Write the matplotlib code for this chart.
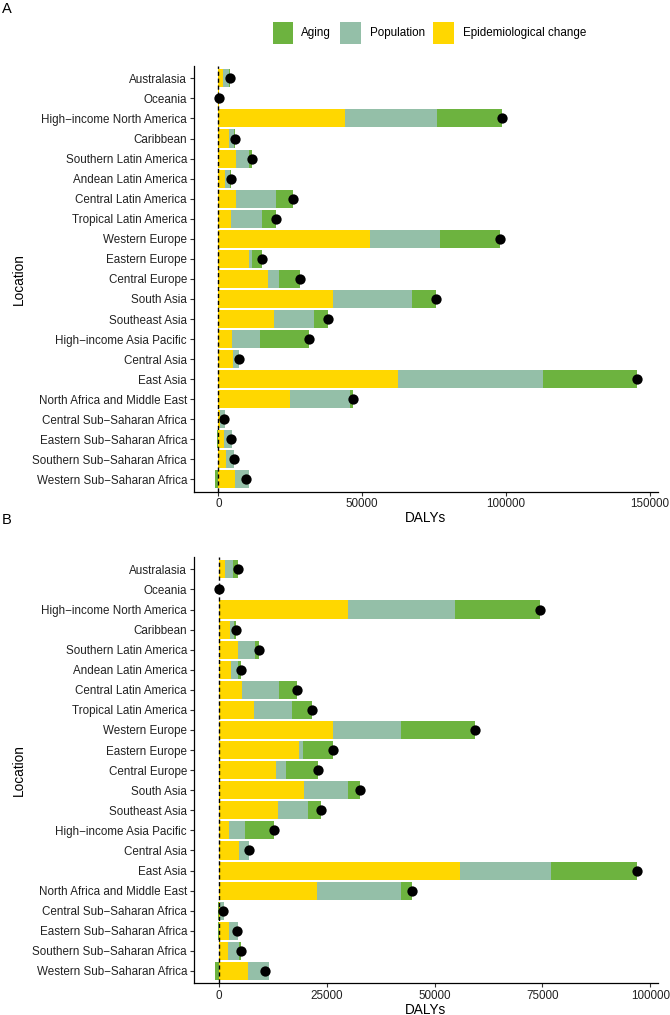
import matplotlib
matplotlib.use("Agg")
import matplotlib.pyplot as plt
from matplotlib.patches import Rectangle
from matplotlib.ticker import FuncFormatter
import numpy as np

plt.rcParams['font.family'] = ['Liberation Sans', 'DejaVu Sans']

locations = ["Australasia", "Oceania", "High\u2212income North America", "Caribbean",
             "Southern Latin America", "Andean Latin America", "Central Latin America",
             "Tropical Latin America", "Western Europe", "Eastern Europe", "Central Europe",
             "South Asia", "Southeast Asia", "High\u2212income Asia Pacific", "Central Asia",
             "East Asia", "North Africa and Middle East", "Central Sub\u2212Saharan Africa",
             "Eastern Sub\u2212Saharan Africa", "Southern Sub\u2212Saharan Africa",
             "Western Sub\u2212Saharan Africa"]

# Panel A components
a_epi = [1700, 150, 44100, 3700, 6150, 2300, 6150, 4400, 52800, 10700, 17300,
         39700, 19300, 4650, 5100, 62400, 25050, 500, 2100, 2700, 5800]
a_pop = [2000, 150, 32000, 1650, 4500, 1750, 13900, 10800, 24350, 1150, 3700,
         27700, 13800, 9950, 2000, 50600, 20750, 1800, 2700, 2650, 4900]
a_aging = [350, 50, 22400, 350, 1050, 350, 5800, 4900, 20900, 3350, 7400,
           8250, 5000, 16950, 150, 32600, 1050, -300, -400, 100, -1150]

# Panel B components
b_epi = [1400, 50, 29850, 2550, 4400, 2700, 5350, 8100, 26450, 18500, 13200,
         19800, 13700, 2400, 4700, 55850, 22800, 350, 2400, 2150, 6700]
b_pop = [1850, 50, 24900, 1000, 3950, 1800, 8550, 8800, 15700, 1000, 2350,
         10150, 6900, 3550, 2150, 21200, 19400, 800, 2000, 2550, 4800]
b_aging = [1100, 20, 19700, 400, 1000, 550, 4200, 4650, 17150, 6900, 7350,
           2700, 3000, 6800, 150, 19850, 2550, -300, -150, 450, -900]

a_ticks = [0, 50000, 100000, 150000]
b_ticks = [0, 25000, 50000, 75000, 100000]

series_names = ["Epidemiological change", "Population", "Aging"]
colors = {"Aging": "#6DB33F", "Population": "#94BFA8", "Epidemiological change": "#FFD700"}
legend_order = ["Aging", "Population", "Epidemiological change"]

W, H = 670, 1015
fig = plt.figure(figsize=(W / 100, H / 100), dpi=100)


def fx(x):
    return x / W


def fy(y):
    return 1 - y / H


def draw_panel(ax, epi, pop, aging, ticks):
    n = len(locations)
    y = np.arange(n)
    comps = [np.array(epi, float), np.array(pop, float), np.array(aging, float)]
    pos_base = np.zeros(n)
    neg_base = np.zeros(n)
    for name, vals in zip(series_names, comps):
        left = np.where(vals >= 0, pos_base, neg_base)
        ax.barh(y, vals, left=left, height=0.9, color=colors[name], linewidth=0, zorder=2)
        pos_base = pos_base + np.where(vals >= 0, vals, 0)
        neg_base = neg_base + np.where(vals < 0, vals, 0)
    total = comps[0] + comps[1] + comps[2]
    ax.axvline(0, color="black", lw=1.0, ls=(0, (3, 2)), zorder=3)
    ax.scatter(total, y, s=55, color="black", zorder=4, linewidths=0)
    lo = neg_base.min()
    hi = max(pos_base.max(), total.max())
    pad = 0.05 * (hi - lo)
    ax.set_xlim(lo - pad, hi + pad)
    ax.set_ylim(n - 0.4, -0.6)
    ax.set_yticks(y)
    ax.set_yticklabels(locations)
    ax.set_xticks(ticks)
    ax.xaxis.set_major_formatter(FuncFormatter(lambda v, p: "%d" % v))
    for s in ["top", "right"]:
        ax.spines[s].set_visible(False)
    for s in ["left", "bottom"]:
        ax.spines[s].set_linewidth(0.9)
        ax.spines[s].set_color("black")
    ax.tick_params(axis="both", length=3, width=0.8, color="#333333",
                   labelsize=8.4, labelcolor="#222222", pad=2)


left = fx(194)
width = fx(658) - fx(194)

axA = fig.add_axes([left, fy(491.5), width, (491.5 - 66.3) / H])
draw_panel(axA, a_epi, a_pop, a_aging, a_ticks)

axB = fig.add_axes([left, fy(983), width, (983 - 557.3) / H])
draw_panel(axB, b_epi, b_pop, b_aging, b_ticks)

# Axis titles
for yc in [(66.3 + 491.5) / 2, (557.3 + 983) / 2]:
    fig.text(fx(18.5), fy(yc), "Location", rotation=90, ha="center", va="center",
             fontsize=9.8, color="black")
for yc in [518.5, 1010]:
    fig.text(fx(426), fy(yc), "DALYs", ha="center", va="center", fontsize=9.8, color="black")

# Panel labels
fig.text(fx(1.5), fy(9), "A", ha="left", va="center", fontsize=10.5)
fig.text(fx(1.5), fy(520), "B", ha="left", va="center", fontsize=10.5)

# Legend
key_x = {"Aging": 272.6, "Population": 340.2, "Epidemiological change": 432.9}
text_x = {"Aging": 301.3, "Population": 369.7, "Epidemiological change": 462.8}
for name in legend_order:
    fig.add_artist(Rectangle((fx(key_x[name]), fy(43.5)), fx(20.8), 21.2 / H,
                             transform=fig.transFigure, facecolor=colors[name],
                             edgecolor="none"))
    fig.text(fx(text_x[name]), fy(33), name, ha="left", va="center", fontsize=8.4,
             color="black")

fig.savefig("out.png", dpi=100)
